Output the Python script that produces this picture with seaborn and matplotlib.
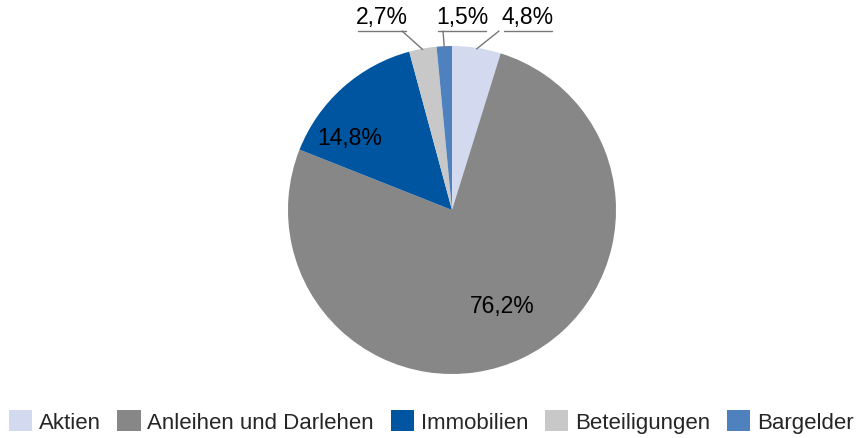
import matplotlib
matplotlib.use("Agg")
import matplotlib.pyplot as plt
import seaborn as sns
import numpy as np
from matplotlib.patches import Patch

categories = ["Aktien", "Anleihen und Darlehen", "Immobilien", "Beteiligungen", "Bargelder"]
shares = [4.8, 76.2, 14.8, 2.7, 1.5]
colors = ["#d3d9ee", "#878787", "#0055a1", "#c8c8c8", "#5081bf"]

sns.set_theme(style="white")
plt.rcParams['font.family'] = ['Liberation Sans', 'DejaVu Sans']

fig = plt.figure(figsize=(8.62, 4.39), dpi=100)
ax = fig.add_axes([0, 0, 1, 1])

cx, cy, r = 452, 228, 164
wedges, _ = ax.pie(shares, colors=colors, startangle=90, counterclock=False,
                   center=(cx, cy), radius=r, frame=True,
                   wedgeprops=dict(linewidth=0))
ax.set_xlim(0, 862)
ax.set_ylim(0, 439)
ax.set_aspect('equal')
ax.axis('off')

def label(v):
    return f"{v:.1f}%".replace(".", ",")

# labels inside the big slices
inside = {1: (502, 133), 2: (350, 301)}
for i, (x, y) in inside.items():
    ax.text(x, y, label(shares[i]), ha='center', va='center', fontsize=16.5, color='black')

# small slices: underlined label above the pie with a leader line
outside = {3: (382, 402), 4: (462, 443), 0: (528, 499)}
for i, (tx, lx) in outside.items():
    w = wedges[i]
    mid = np.deg2rad((w.theta1 + w.theta2) / 2)
    px, py = cx + r * np.cos(mid), cy + r * np.sin(mid)
    ax.text(tx, 410, label(shares[i]), ha='center', va='bottom', fontsize=16.5, color='black')
    ax.plot([tx - 24, tx + 24], [407, 407], color='#777777', lw=1)
    ax.plot([lx, px], [407, py - 1], color='#777777', lw=1)

handles = [Patch(facecolor=c, edgecolor='none') for c in colors]
fig.legend(handles, categories, loc='lower center', bbox_to_anchor=(0.5, -0.035), ncol=5,
           frameon=False, fontsize=16, handlelength=1.05, handleheight=1.05,
           handletextpad=0.3, columnspacing=0.75)

fig.savefig("out.png", dpi=100)
